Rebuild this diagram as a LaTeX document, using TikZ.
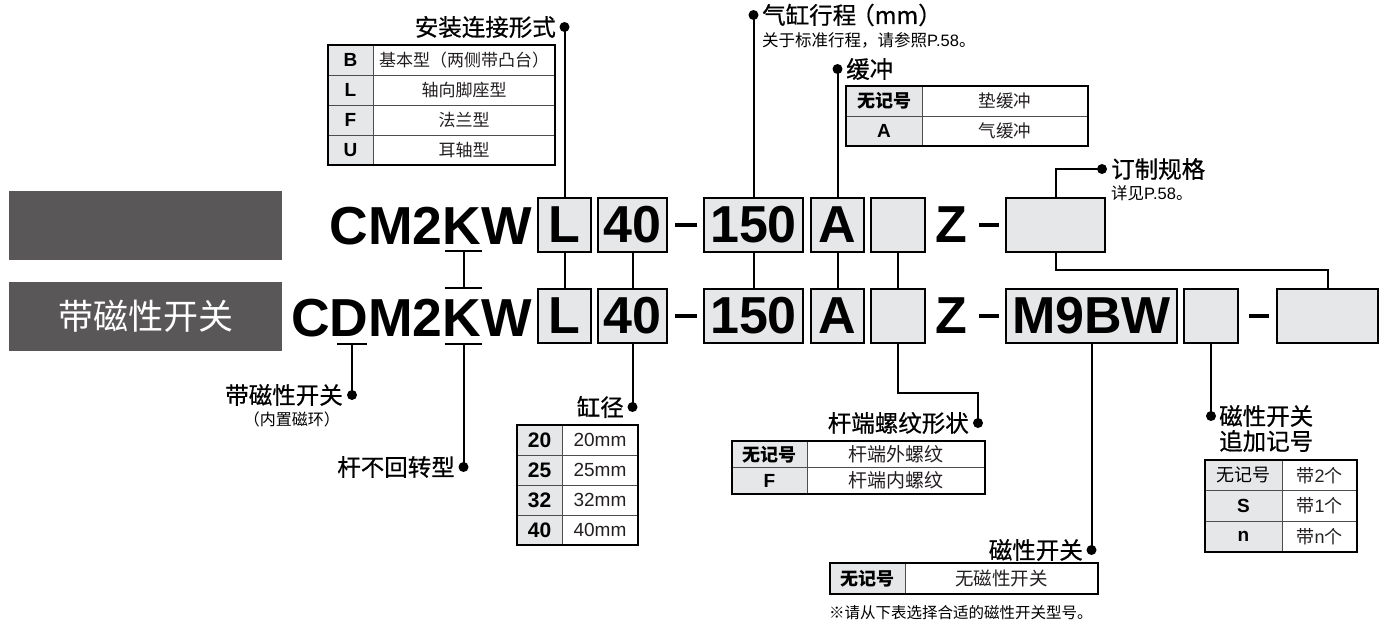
\documentclass[tikz,border=0pt]{standalone}
\usepackage{fontspec}
\setmainfont{Noto Sans CJK SC}
\newfontfamily\cjkm{Noto Sans CJK SC}[FakeBold=0.6]
\newfontfamily\lat{Liberation Sans}
\usetikzlibrary{calc}
\definecolor{boxfill}{HTML}{E6E7E8}
\definecolor{darkbox}{HTML}{595757}
\definecolor{ink}{HTML}{231F20}
\definecolor{gridc}{HTML}{4D4D4D}
\newcommand\fsz[1]{\fontsize{#1}{#1}\selectfont}
\newcommand\klat{\lat\bfseries\fsz{19}}
\newcommand\kcjk{\bfseries\fsz{18}}
% name, x0, xsplit, x2, y0, rowh, nrows, value size, list
\newcommand\tbl[9]{%
  \foreach \k/\v [count=\i] in {#9} {
    \pgfmathsetmacro\ya{#5+(\i-1)*#6}
    \pgfmathsetmacro\yb{#5+\i*#6}
    \pgfmathsetmacro\ym{#5+(\i-0.5)*#6}
    \filldraw[fill=boxfill, draw=gridc, line width=1pt] (#2,\ya) rectangle (#3,\yb);
    \draw[gridc, line width=1pt] (#3,\ya) rectangle (#4,\yb);
    \node[inner sep=0pt] (#1k\i) at ({(#2+#3)/2},\ym) {\k};
    \node[inner sep=0pt, text=ink, font=\fsz{#8}] (#1v\i) at ({(#3+#4)/2},\ym) {\v};
  }
  \pgfmathsetmacro\yend{#5+#7*#6}
  \draw[black, line width=1.8pt] (#2,#5) rectangle (#4,\yend);
}
\begin{document}
\begin{tikzpicture}[x=1pt,y=-1pt,
  conn/.style={line width=2pt, black},
  dotn/.style={circle, fill=black, minimum size=10pt, inner sep=0pt},
  bigtxt/.style={font=\lat\bfseries\fsz{52}, inner sep=0pt},
  codetxt/.style={font=\lat\bfseries\fsz{53.5}, inner sep=0pt},
  codebox/.style={draw=black, line width=2.5pt, fill=boxfill, minimum height=54pt, inner sep=0pt, font=\lat\bfseries\fsz{52}},
  title/.style={inner sep=0pt, font=\cjkm\fsz{23.5}},
  subt/.style={inner sep=0pt, font=\fsz{16.5}},
  dashl/.style={line width=3.5pt, black},
]
\useasboundingbox (0,0) rectangle (1388,621);

% left dark boxes
\node[fill=darkbox, minimum width=273pt, minimum height=69pt, inner sep=0pt] (G1) at (145.5,225.5) {};
\node[fill=darkbox, minimum width=273pt, minimum height=69pt, inner sep=0pt, text=white, font=\fsz{35}] (G2) at (145.5,316.5) {带磁性开关};

% model code rows
\node[codetxt, anchor=base east] (T1) at (532,244) {CM2KW};
\node[codetxt, anchor=base east] (T2) at (532,336) {CDM2KW};

\node[codebox, minimum width=53pt] (L1) at (564.5,225) {L};
\node[codebox, minimum width=69pt] (B1) at (632.5,225) {40};
\node[codebox, minimum width=99pt] (S1) at (753.5,225) {150};
\node[codebox, minimum width=53pt] (A1) at (837.5,225) {A};
\node[codebox, minimum width=54pt] (E1) at (898,225) {};
\node[bigtxt] (Z1) at (951,225) {Z};
\node[codebox, minimum width=99pt] (X1) at (1055.5,225) {};

\node[codebox, minimum width=53pt] (L2) at (564.5,316) {L};
\node[codebox, minimum width=69pt] (B2) at (632.5,316) {40};
\node[codebox, minimum width=99pt] (S2) at (753.5,316) {150};
\node[codebox, minimum width=53pt] (A2) at (837.5,316) {A};
\node[codebox, minimum width=54pt] (E2) at (898,316) {};
\node[bigtxt] (Z2) at (951,316) {Z};
\node[codebox, minimum width=171pt] (M2) at (1091.5,316) {M9BW};
\node[codebox, minimum width=54pt] (P2) at (1211,316) {};
\node[codebox, minimum width=101pt] (Q2) at (1327.5,316) {};

% dashes
\draw[dashl] (675,225) -- (697,225);
\draw[dashl] (979,225) -- (999,225);
\draw[dashl] (675,316) -- (697,316);
\draw[dashl] (979,316) -- (999,316);
\draw[dashl] (1249,316) -- (1269,316);

% vertical links between rows
\draw[conn] (L1.south) -- (L2.north);
\draw[conn] (B1.south) -- (B2.north);
\draw[conn] (S1.south) -- (S2.north);
\draw[conn] (A1.south) -- (A2.north);
\draw[conn] (E1.south) -- (E2.north);
\coordinate (jn) at (1327.5,270);
\draw[conn] (X1.south) |- (jn) -- (Q2.north);

% K and D bars
\coordinate (k1) at (463.5,251);
\coordinate (k2) at (463.5,288);
\coordinate (k3) at (463.5,344);
\coordinate (d3) at (352,344);
\draw[conn] (445,251) -- (482,251);
\draw[conn] (445,288) -- (482,288);
\draw[conn] (k1) -- (k2);
\draw[conn] (445,344) -- (482,344);
\draw[conn] (337,344) -- (367,344);

% mounting
\node[dotn] (mdot) at (564.5,27) {};
\node[title, anchor=east] (mlab) at (556,27) {安装连接形式};
\draw[conn] (mdot.center) -- (L1.north);
\tbl{mt}{328}{373}{555}{45}{30}{4}{17}{{\klat B}/基本型（两侧带凸台）, {\klat L}/轴向脚座型, {\klat F}/法兰型, {\klat U}/耳轴型}

% stroke
\node[dotn] (sdot) at (753.5,15) {};
\node[title, anchor=west] (slab) at (762,15) {气缸行程\kern-5pt（mm）};
\node[subt, anchor=west] (ssub) at (762,40) {关于标准行程，请参照{\lat P.58}。};
\draw[conn] (sdot.center) -- (S1.north);

% cushion
\node[dotn] (cdot) at (837.5,69) {};
\node[title, anchor=west] (clab) at (846,69) {缓冲};
\draw[conn] (cdot.center) -- (A1.north);
\tbl{ct}{846}{922}{1088}{86}{30}{2}{17.5}{{\kcjk 无记号}/垫缓冲, {\klat A}/气缓冲}

% made to order
\node[dotn] (xdot) at (1102,169) {};
\node[title, anchor=west] (xlab) at (1111,169) {订制规格};
\node[subt, anchor=west] (xsub) at (1111,193) {详见{\lat P.58}。};
\draw[conn] (xdot.center) -| (X1.north);

% magnet
\node[dotn] (ddot) at (352,395) {};
\node[title, anchor=east] (dlab) at (343,395) {带磁性开关};
\node[inner sep=0pt, font=\fsz{16}, anchor=east] (dsub) at (340,419) {（内置磁环）};
\draw[conn] (d3) -- (ddot.center);

% non-rotating
\node[dotn] (kdot) at (463.5,467) {};
\node[title, anchor=east] (klab) at (455,467) {杆不回转型};
\draw[conn] (k3) -- (kdot.center);

% bore
\node[dotn] (bdot) at (632.5,407) {};
\node[title, anchor=east] (blab) at (624,407) {缸径};
\draw[conn] (B2.south) -- (bdot.center);
\tbl{bt}{517}{562}{638}{425}{30}{4}{19}{{\lat\bfseries\fsz{21}20}/{\lat 20mm}, {\lat\bfseries\fsz{21}25}/{\lat 25mm}, {\lat\bfseries\fsz{21}32}/{\lat 32mm}, {\lat\bfseries\fsz{21}40}/{\lat 40mm}}

% rod end thread
\node[dotn] (rdot) at (978,423) {};
\node[title, anchor=east] (rlab) at (969,423) {杆端螺纹形状};
\draw[conn] (E2.south) |- ($(rdot)+(0,-30)$) -- (rdot.center);
\tbl{rt}{732}{807}{985}{441}{26.5}{2}{19}{{\kcjk 无记号}/杆端外螺纹, {\klat F}/杆端内螺纹}

% auto switch
\node[dotn] (wdot) at (1091.5,550) {};
\node[title, anchor=east] (wlab) at (1083,550) {磁性开关};
\draw[conn] (M2.south) -- (wdot.center);
\tbl{wt}{830}{905}{1098}{563}{31}{1}{18.5}{{\kcjk 无记号}/无磁性开关}
\node[inner sep=0pt, font=\fsz{15.5}, anchor=west] (wnote) at (829,613) {※请从下表选择合适的磁性开关型号。};

% number of switches
\node[dotn] (ndot) at (1211,416) {};
\node[title, anchor=west] (nlab) at (1219,416) {磁性开关};
\node[title, anchor=west] (nlab2) at (1219,441) {追加记号};
\draw[conn] (P2.south) -- (ndot.center);
\tbl{nt}{1205}{1282}{1357}{460}{30.7}{3}{18}{{\fsz{18}无记号}/带{\lat 2}个, {\klat S}/带{\lat 1}个, {\klat n}/带{\lat n}个}

\end{tikzpicture}
\end{document}
